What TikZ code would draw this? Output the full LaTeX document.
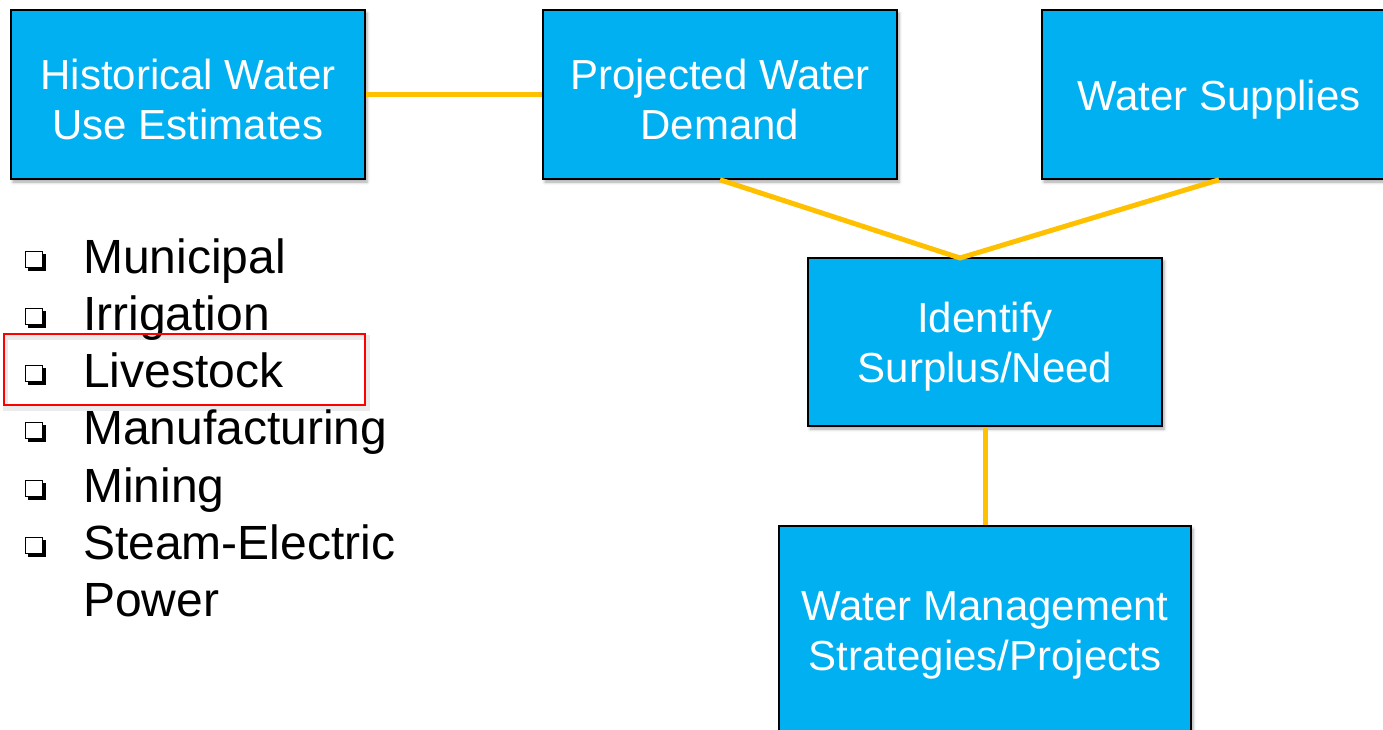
\documentclass[tikz,border=0pt]{standalone}
\usepackage{fontspec}
\setmainfont{Liberation Sans}
\usetikzlibrary{shadows.blur}
\definecolor{boxblue}{HTML}{00B0F0}
\definecolor{linkyellow}{HTML}{FFC000}
\definecolor{markred}{HTML}{FF0000}

\begin{document}
\begin{tikzpicture}[x=1pt,y=-1pt,
  softshadow/.style={blur shadow={shadow xshift=2pt, shadow yshift=-3pt,
      shadow blur radius=3pt, shadow opacity=35}},
  stagebox/.style={draw=black, line width=1.5pt, fill=boxblue, inner sep=0pt, softshadow},
  boxtext/.style={text=white, align=center, inner sep=0pt,
      font=\fontsize{42}{50}\selectfont},
  link/.style={draw=linkyellow, line width=5pt},
  listitem/.style={anchor=base west, inner sep=0pt, font=\fontsize{48}{57}\selectfont},
]
\useasboundingbox (0,0) rectangle (1383,729);
\clip (0,0) rectangle (1383,729);

% process boxes
\node[stagebox, minimum width=354pt, minimum height=169pt] (hist) at (188,94.5) {};
\node[stagebox, minimum width=354pt, minimum height=169pt] (proj) at (720,94.5) {};
\node[stagebox, minimum width=354pt, minimum height=169pt] (supply) at (1219,94.5) {};
\node[stagebox, minimum width=354pt, minimum height=168pt] (ident) at (985,342) {};
\node[stagebox, minimum width=412pt, minimum height=208pt] (wms) at (985,630) {};

% box captions
\node[boxtext] (histtext) at ([yshift=-5pt]hist.center) {Historical Water\\Use Estimates};
\node[boxtext] (projtext) at ([yshift=-5pt]proj.center) {Projected Water\\Demand};
\node[boxtext] (supplytext) at ([yshift=-5pt]supply.center) {Water Supplies};
\node[boxtext] (identtext) at ([yshift=-5pt]ident.center) {Identify\\Surplus/Need};
\node[boxtext] (wmstext) at ([yshift=-5pt]wms.center) {Water Management\\Strategies/Projects};

% connectors
\coordinate (vtip) at (960,258);
\draw[link] (hist.east) -- (proj.west);
\draw[link, line join=miter] (proj.south) -- (vtip) -- (supply.south);
\draw[link] (ident.south) -- (wms.north);

% water use categories
\foreach \name/\txt/\yb/\mark in {
    i1/Municipal/273/1, i2/Irrigation/330/1, i3/Livestock/387/1,
    i4/Manufacturing/444/1, i5/Mining/502/1, i6/Steam-Electric/559/1,
    i7/Power/616/0} {
  \node[listitem] (\name) at (83,\yb) {\txt};
  \ifnum\mark=1
    \fill[black] (28,\yb-19) rectangle (45.5,\yb-2.5);
    \filldraw[fill=white, draw=black, line width=1pt] (25,\yb-22) rectangle (42,\yb-5.5);
  \fi
}

% highlight frame with a faint offset shadow
\draw[black, opacity=0.08, line width=5pt] (5.5,337) rectangle (367,408);
\draw[markred, line width=2pt] (3.5,334) rectangle (365,405);
\end{tikzpicture}
\end{document}
